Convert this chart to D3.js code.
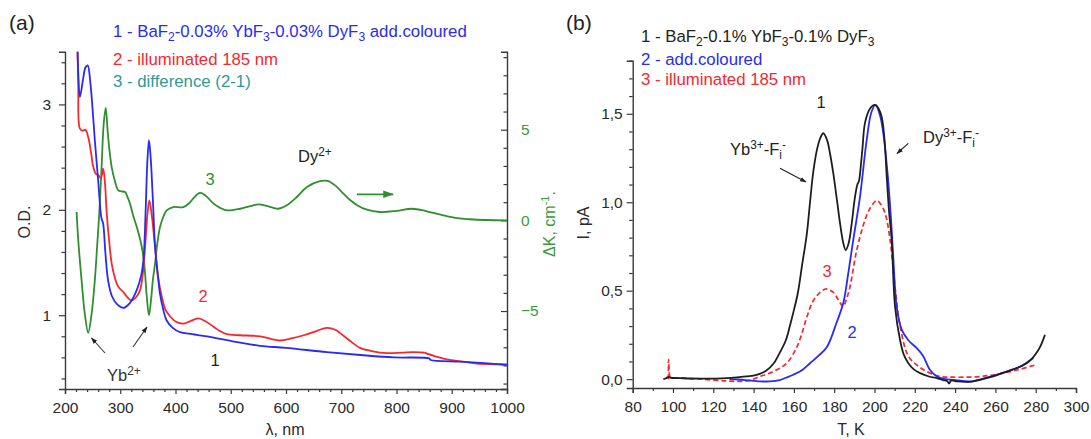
<!DOCTYPE html>
<html><head><meta charset="utf-8">
<script src="https://cdn.jsdelivr.net/npm/d3@7"></script>
<style>
html,body{margin:0;padding:0;background:#fff;}
svg{display:block;font-family:"Liberation Sans",Arial,Helvetica,sans-serif;}
</style></head>
<body>
<svg id="chart" width="1091" height="439"></svg>
<script>
// ---------- DATA: panel (a) ----------
const aXTicks = [200,300,400,500,600,700,800,900,1000];
const aODTicks = [1,2,3];
const aKTicks = [-5,0,5];
// curve 1: additively coloured (nm, O.D.)
const aBlue = [[222,3.7],[224,3.3],[227,3.07],[233,3.25],[237,3.35],[241,3.37],[246,3.2],[250,2.95],[254,2.66],[260,2.28],[266,1.92],[269,1.87],[273,1.6],[278,1.33],[285,1.18],[295,1.1],[306,1.07],[318,1.12],[330,1.24],[338,1.38],[342,1.52],[346,2.0],[349,2.45],[352,2.66],[355,2.5],[359,2.1],[363,1.65],[368,1.38],[372,1.2],[378,1.05],[384,0.95],[395,0.88],[408,0.84],[430,0.82],[457,0.8],[517,0.74],[553,0.71],[600,0.69],[674,0.65],[740,0.62],[795,0.6],[859,0.59],[862,0.575],[915,0.56],[960,0.545],[1000,0.53]];
// curve 2: illuminated 185 nm (nm, O.D.)
const aRed = [[222,3.7],[224,3.2],[227,2.77],[232,2.75],[237,2.76],[242,2.69],[247,2.55],[251,2.41],[256,2.34],[260,2.33],[265,2.3],[269,2.39],[272,2.28],[275.5,1.97],[280,1.7],[284.5,1.49],[290,1.36],[296.5,1.27],[305.6,1.22],[313,1.17],[321,1.14],[330,1.18],[336,1.24],[341,1.4],[345,1.65],[349,1.95],[352.7,2.09],[357,1.95],[363,1.65],[368,1.38],[375,1.18],[382,1.05],[390,0.99],[400,0.94],[414,0.92],[425,0.94],[441.5,0.97],[455,0.94],[469,0.89],[480,0.85],[493,0.82],[517,0.81],[553,0.8],[589,0.76],[610,0.78],[632,0.81],[655,0.85],[674,0.88],[690,0.86],[698,0.83],[715,0.76],[734,0.69],[755,0.66],[783,0.64],[810,0.645],[831,0.65],[850,0.645],[858,0.63],[870,0.61],[891,0.58],[920,0.56],[946,0.54],[975,0.535],[1000,0.53]];
// curve 3: difference (nm, ΔK cm^-1)
const aGreen = [[221,0.46],[224,-1.1],[230,-3.3],[236,-5.2],[242,-6.2],[248,-5.2],[254,-3.3],[258,-1.5],[262,0.37],[266,2.8],[270,5.3],[273.7,6.2],[277,5.0],[280,4.0],[284.5,2.94],[290,2.2],[296.5,1.65],[302,1.6],[308.7,1.56],[313,1.3],[317.7,0.92],[324,0.2],[330,-0.37],[339,-1.47],[344,-2.6],[348,-4.2],[352,-5.24],[356,-4.3],[359,-3.3],[363,-2.39],[367,-1.3],[372,-0.37],[378,0.2],[384,0.55],[396,0.73],[414,0.73],[425,0.95],[432,1.2],[444.5,1.51],[455,1.35],[469,0.92],[480,0.7],[493,0.55],[517,0.64],[535,0.78],[550,0.88],[565,0.8],[586,0.64],[600,0.8],[620,1.3],[638,1.84],[660,2.15],[675,2.17],[690,1.9],[704,1.47],[716,1.12],[728,0.85],[745,0.6],[770,0.46],[800,0.52],[828,0.64],[855,0.5],[885,0.28],[910,0.12],[933,0.06],[960,0.02],[1000,0.0]];

// ---------- DATA: panel (b) ----------
const bXTicks = [80,100,120,140,160,180,200,220,240,260,280,300];
const bYTicks = [0,0.5,1.0,1.5];
// curve 1: BaF2-0.1%YbF3-0.1%DyF3 (T K, I pA)
const bBlack = [[95.2,0.0],[96.5,0.005],[97.5,0.012],[99,0.008],[105,0.005],[115,0.003],[126.6,0.006],[133,0.012],[139.9,0.02],[143,0.03],[146.5,0.05],[150,0.09],[153,0.15],[156,0.22],[158,0.3],[160,0.39],[162,0.49],[164,0.64],[166.4,0.82],[168,1.0],[169.6,1.17],[171.5,1.3],[173,1.36],[174.6,1.39],[176.5,1.35],[178,1.27],[179.6,1.16],[181.5,1.0],[182.9,0.88],[184.5,0.77],[185.7,0.73],[187.2,0.77],[188.7,0.88],[190.2,1.02],[191.5,1.1],[192.3,1.12],[192.8,1.16],[194,1.3],[195.3,1.45],[197.8,1.53],[200.2,1.55],[202,1.53],[203.6,1.48],[205,1.35],[206,1.16],[207.2,0.95],[208.5,0.79],[210.2,0.41],[212.7,0.22],[214.5,0.14],[216.8,0.09],[219.5,0.055],[222.6,0.034],[227,0.015],[230.9,0.006],[234,-0.005],[236,-0.01],[237,-0.025],[238,-0.008],[241,-0.013],[247.4,-0.015],[252,-0.005],[255.7,0.006],[260,0.02],[265.6,0.043],[270,0.06],[275.5,0.09],[278.5,0.12],[280.5,0.15],[282.5,0.19],[284.6,0.25]];
// curve 2: add. coloured
const bBlue = [[128,0.0],[132,-0.002],[136,-0.005],[143.2,-0.013],[148,-0.012],[153,-0.005],[156,0.008],[159.7,0.025],[164,0.05],[168,0.09],[172,0.13],[176.3,0.18],[181.2,0.32],[184.5,0.43],[187,0.6],[189.5,0.79],[192.8,1.03],[196.1,1.35],[198.5,1.51],[200.5,1.55],[202.5,1.5],[204,1.42],[206.5,1.16],[208.5,0.85],[209.5,0.65],[211,0.41],[213.5,0.28],[216.8,0.22],[221,0.175],[224.2,0.13],[227.5,0.053],[230.9,0.015],[235,0.0],[239.1,-0.004],[247.4,-0.013],[255.7,0.009],[265.6,0.043],[272.2,0.07],[278.8,0.12]];
// curve 3: illuminated 185 nm
const bRed = [[97.7,0.0],[97.8,0.11],[98.1,0.05],[98.5,0.015],[100,0.008],[105,0.005],[114,0.0],[126.6,-0.01],[136.6,-0.01],[143.2,0.015],[149.8,0.043],[156.4,0.09],[161.4,0.18],[164,0.26],[166.4,0.35],[169,0.43],[171.3,0.47],[174,0.5],[176.3,0.51],[179.6,0.49],[182,0.45],[184.5,0.41],[186,0.45],[187.8,0.52],[191.2,0.73],[195.3,0.9],[198,0.97],[201.1,1.01],[203,0.99],[205.2,0.94],[207.7,0.79],[210.2,0.52],[212.7,0.3],[216.8,0.13],[221,0.08],[225.9,0.043],[232.5,0.015],[239.1,0.011],[252.4,0.015],[263.9,0.034],[272.2,0.056],[279.7,0.08]];

// ---------- COLOURS ----------
const C = {blue:"#2a2af5", red:"#f5282d", green:"#2f8f2f", black:"#1e1e1e", teal:"#2f9a94", axis:"#3a3a3a", text:"#2a2a2a", gtext:"#3a9a3a"};
const FS = 16, TFS = 15.5;

const svg = d3.select("#chart");
const defs = svg.append("defs");
function marker(id, color){
  defs.append("marker").attr("id",id).attr("viewBox","0 0 10 10").attr("refX",9).attr("refY",5)
    .attr("markerWidth",6).attr("markerHeight",6).attr("orient","auto")
    .append("path").attr("d","M0,1.5 L10,5 L0,8.5 Z").attr("fill",color);
}
marker("arrK","#222"); marker("arrG",C.green);

// ---------- SCALES ----------
const aX = d3.scaleLinear().domain([200,1000]).range([65,507]);
const aY = d3.scaleLinear().domain([0.3,3.5]).range([389,51.7]);
const aK = d3.scaleLinear().domain([-9.3,9.3]).range([389,51.7]);
const bX = d3.scaleLinear().domain([80,300]).range([632.7,1076]);
const bY = d3.scaleLinear().domain([-0.05,1.8]).range([388,60.7]);

defs.append("clipPath").attr("id","clipA").append("rect").attr("x",65).attr("y",51.7).attr("width",442).attr("height",337.3);
defs.append("clipPath").attr("id","clipB").append("rect").attr("x",632.7).attr("y",60.7).attr("width",443.3).attr("height",327.3);

function styleAxis(g, color){
  g.select(".domain").attr("stroke",C.axis).attr("stroke-width",1.4);
  g.selectAll(".tick line").attr("stroke",C.axis).attr("stroke-width",1.2);
  g.selectAll(".tick text").attr("fill",color||C.text).attr("font-size",TFS).attr("font-family","Liberation Sans, Arial, sans-serif");
}
function minor(g, ticks, size){
  g.selectAll(".tick text").filter(d=>!ticks.includes(+d.toFixed(3))).remove();
  g.selectAll(".tick line").filter(d=>!ticks.includes(+d.toFixed(3))).attr(size.attr, size.v);
}

// ---------- PANEL A AXES ----------
const aMinorX = d3.range(200,1001,20);
const gAx = svg.append("g").attr("transform","translate(0,389)")
  .call(d3.axisBottom(aX).tickValues(aMinorX).tickSize(5).tickPadding(8).tickFormat(d3.format("d")));
styleAxis(gAx); minor(gAx, aXTicks, {attr:"y2", v:3});

const aMinorY = d3.range(0.4,3.41,0.2).map(v=>+v.toFixed(2));
const gAy = svg.append("g").attr("transform","translate(65,0)")
  .call(d3.axisLeft(aY).tickValues(aMinorY).tickSize(6).tickPadding(8).tickFormat(d3.format("d")));
styleAxis(gAy); minor(gAy, aODTicks, {attr:"x2", v:-3.5});

const aMinorK = d3.range(-9,9.1,1);
const gAk = svg.append("g").attr("transform","translate(507,0)")
  .call(d3.axisRight(aK).tickValues(aMinorK).tickSize(-6).tickPadding(14).tickFormat(d3.format("d")));
styleAxis(gAk, C.gtext); minor(gAk, aKTicks, {attr:"x2", v:-3.5});

// ---------- PANEL A CURVES ----------
const curve = d3.curveCatmullRom.alpha(0.5);
const lineA = d3.line().x(d=>aX(d[0])).y(d=>aY(d[1])).curve(curve);
const lineK = d3.line().x(d=>aX(d[0])).y(d=>aK(d[1])).curve(curve);
const pa = svg.append("g").attr("clip-path","url(#clipA)");
pa.append("path").attr("d",lineK(aGreen)).attr("fill","none").attr("stroke",C.green).attr("stroke-width",1.8);
pa.append("path").attr("d",lineA(aRed)).attr("fill","none").attr("stroke",C.red).attr("stroke-width",1.8);
pa.append("path").attr("d",lineA(aBlue)).attr("fill","none").attr("stroke",C.blue).attr("stroke-width",1.8);

// ---------- PANEL B AXES ----------
const bMinorX = d3.range(80,301,10);
const gBx = svg.append("g").attr("transform","translate(0,388)")
  .call(d3.axisBottom(bX).tickValues(bMinorX).tickSize(5).tickPadding(8).tickFormat(d3.format("d")));
styleAxis(gBx); minor(gBx, bXTicks, {attr:"y2", v:3});

const bMinorY = d3.range(0,1.81,0.1).map(v=>+v.toFixed(2));
const gBy = svg.append("g").attr("transform","translate(632.7,0)")
  .call(d3.axisLeft(bY).tickValues(bMinorY).tickSize(6).tickPadding(4).tickFormat(d=>d3.format(".1f")(d).replace(".",",")));
styleAxis(gBy); minor(gBy, bYTicks, {attr:"x2", v:-3.5});

// ---------- PANEL B CURVES ----------
const lineB = d3.line().x(d=>bX(d[0])).y(d=>bY(d[1])).curve(curve);
const pb = svg.append("g").attr("clip-path","url(#clipB)");
pb.append("path").attr("d",lineB(bRed)).attr("fill","none").attr("stroke",C.red).attr("stroke-width",1.7).attr("stroke-dasharray","5,3");
pb.append("path").attr("d",lineB(bBlue)).attr("fill","none").attr("stroke",C.blue).attr("stroke-width",1.8);
pb.append("path").attr("d",lineB(bBlack)).attr("fill","none").attr("stroke",C.black).attr("stroke-width",1.8);

// ---------- TEXT HELPERS ----------
function rich(x, y, parts, color, size, anchor){
  const t = svg.append("text").attr("x",x).attr("y",y).attr("fill",color).attr("font-size",size)
    .attr("text-anchor",anchor||"start");
  let shift = 0;
  parts.forEach(p=>{
    const s = t.append("tspan").text(p.t);
    let target = p.sub ? 4 : (p.sup ? -6 : 0);
    if(target !== shift){ s.attr("dy", target - shift); shift = target; }
    if(p.sub || p.sup) s.attr("font-size", size*0.72);
  });
  return t;
}
function arrow(x1,y1,x2,y2,color,id,w){
  svg.append("line").attr("x1",x1).attr("y1",y1).attr("x2",x2).attr("y2",y2)
    .attr("stroke",color).attr("stroke-width",w||1.1).attr("marker-end","url(#"+id+")");
}

// ---------- PANEL A TEXT ----------
rich(9,30,[{t:"(a)"}],"#222",21);
rich(113,37,[{t:"1 - BaF"},{t:"2",sub:1},{t:"-0.03% YbF"},{t:"3",sub:1},{t:"-0.03% DyF"},{t:"3",sub:1},{t:" add.coloured"}],C.blue,16.8);
rich(113,65,[{t:"2 - illuminated 185 nm"}],C.red,16.8);
rich(113,87,[{t:"3 - difference (2-1)"}],C.teal,16.8);
rich(210,185,[{t:"3"}],C.green,16.5,"middle");
rich(203,302,[{t:"2"}],C.red,16.5,"middle");
rich(215,366,[{t:"1"}],"#222",16.5,"middle");
rich(107,381,[{t:"Yb"},{t:"2+",sup:1}],"#333",16.5);
arrow(105,353,91.5,338,"#333","arrK");
arrow(133,347,147,327,"#333","arrK");
rich(298,162,[{t:"Dy"},{t:"2+",sup:1}],"#222",16.5);
arrow(357,194.3,393,194.3,C.green,"arrG",1.8);
svg.append("text").attr("x",285).attr("y",435).attr("text-anchor","middle").attr("font-size",FS).attr("fill",C.text).text("λ, nm");
svg.append("text").attr("transform","translate(30,222) rotate(-90)").attr("text-anchor","middle").attr("font-size",FS).attr("fill",C.text).text("O.D.");
(function(){
  const t = svg.append("text").attr("transform","translate(555,224) rotate(-90)").attr("text-anchor","middle").attr("font-size",FS).attr("fill",C.gtext);
  t.append("tspan").text("ΔK, cm");
  t.append("tspan").text("-1").attr("font-size",11).attr("dy",-6);
  t.append("tspan").text(".").attr("dy",6);
})();

// ---------- PANEL B TEXT ----------
rich(566,30,[{t:"(b)"}],"#222",21);
rich(641,42,[{t:"1 - BaF"},{t:"2",sub:1},{t:"-0.1% YbF"},{t:"3",sub:1},{t:"-0.1% DyF"},{t:"3",sub:1}],"#222",16.8);
rich(641,65,[{t:"2 - add.coloured"}],C.blue,16.8);
rich(641,85,[{t:"3 - illuminated 185 nm"}],C.red,16.8);
rich(821,108,[{t:"1"}],"#222",16.5,"middle");
rich(730,155,[{t:"Yb"},{t:"3+",sup:1},{t:"-F"},{t:"i",sub:1},{t:"-",sup:1}],"#222",16.5);
arrow(780,168.3,806,182,"#222","arrK");
rich(923,143,[{t:"Dy"},{t:"3+",sup:1},{t:"-F"},{t:"i",sub:1},{t:"-",sup:1}],"#222",16.5);
arrow(908.3,143.3,897,153.5,"#222","arrK");
rich(827,277,[{t:"3"}],C.red,16.5,"middle");
rich(852,338,[{t:"2"}],C.blue,16.5,"middle");
svg.append("text").attr("x",851).attr("y",435).attr("text-anchor","middle").attr("font-size",FS).attr("fill",C.text).text("T, K");
svg.append("text").attr("transform","translate(589,223) rotate(-90)").attr("text-anchor","middle").attr("font-size",FS).attr("fill",C.text).text("I, pA");
</script>
</body></html>
